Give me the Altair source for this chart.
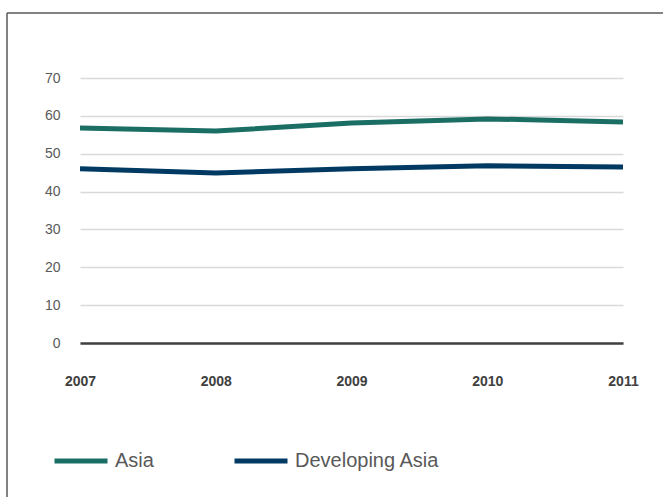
import altair as alt
import pandas as pd

years = ["2007", "2008", "2009", "2010", "2011"]
asia = [56.8, 56.0, 58.1, 59.2, 58.4]
developing_asia = [46.0, 44.9, 46.0, 46.8, 46.5]
series_names = ["Asia", "Developing Asia"]
series_colors = ["#1b6e64", "#003a63"]
y_ticks = [0, 10, 20, 30, 40, 50, 60, 70]

rows = []
for name, vals in zip(series_names, [asia, developing_asia]):
    for yr, v in zip(years, vals):
        rows.append({"year": yr, "value": v, "series": name})
df = pd.DataFrame(rows)

FONT = "Liberation Sans"

lines = alt.Chart(df).mark_line(strokeWidth=5, strokeCap="butt").encode(
    x=alt.X("year:O", sort=years,
            scale=alt.Scale(type="point", padding=0),
            axis=alt.Axis(title=None, labelAngle=0, labelFontWeight="bold",
                          labelFontSize=14, labelColor="#404040", labelFont=FONT,
                          labelPadding=31, ticks=False, domain=True,
                          domainColor="#404040", domainWidth=2.5, grid=False)),
    y=alt.Y("value:Q", scale=alt.Scale(domain=[0, 70], nice=False),
            axis=alt.Axis(title=None, values=y_ticks, labelFontSize=14,
                          labelColor="#595959", labelFont=FONT, labelPadding=20,
                          ticks=False, domain=False, grid=True,
                          gridColor="#d9d9d9", gridWidth=1.5)),
    color=alt.Color("series:N", sort=series_names,
                    scale=alt.Scale(domain=series_names, range=series_colors),
                    legend=alt.Legend(title=None, orient="none", direction="horizontal",
                                      legendX=-28, legendY=354,
                                      symbolType="stroke", symbolStrokeWidth=5,
                                      symbolSize=2809, labelFontSize=20,
                                      labelFont=FONT, labelColor="#595959",
                                      labelOffset=5, columnPadding=70)),
)

frame_left = alt.Chart(pd.DataFrame({"a": [0]})).mark_rule(
    color="#595959", strokeWidth=1.5).encode(
    x=alt.value(-73), y=alt.value(-65), y2=alt.value(430))
frame_top = alt.Chart(pd.DataFrame({"a": [0]})).mark_rule(
    color="#595959", strokeWidth=1.5).encode(
    x=alt.value(-73), x2=alt.value(600), y=alt.value(-65))

chart = alt.layer(lines, frame_left, frame_top).properties(
    width=543, height=265,
    autosize=alt.AutoSizeParams(type="none"),
    padding={"left": 80, "top": 78, "right": 40, "bottom": 154},
    background="white",
).configure_view(stroke=None)

chart.save("out.html", embed_options={"renderer": "svg", "actions": False})
